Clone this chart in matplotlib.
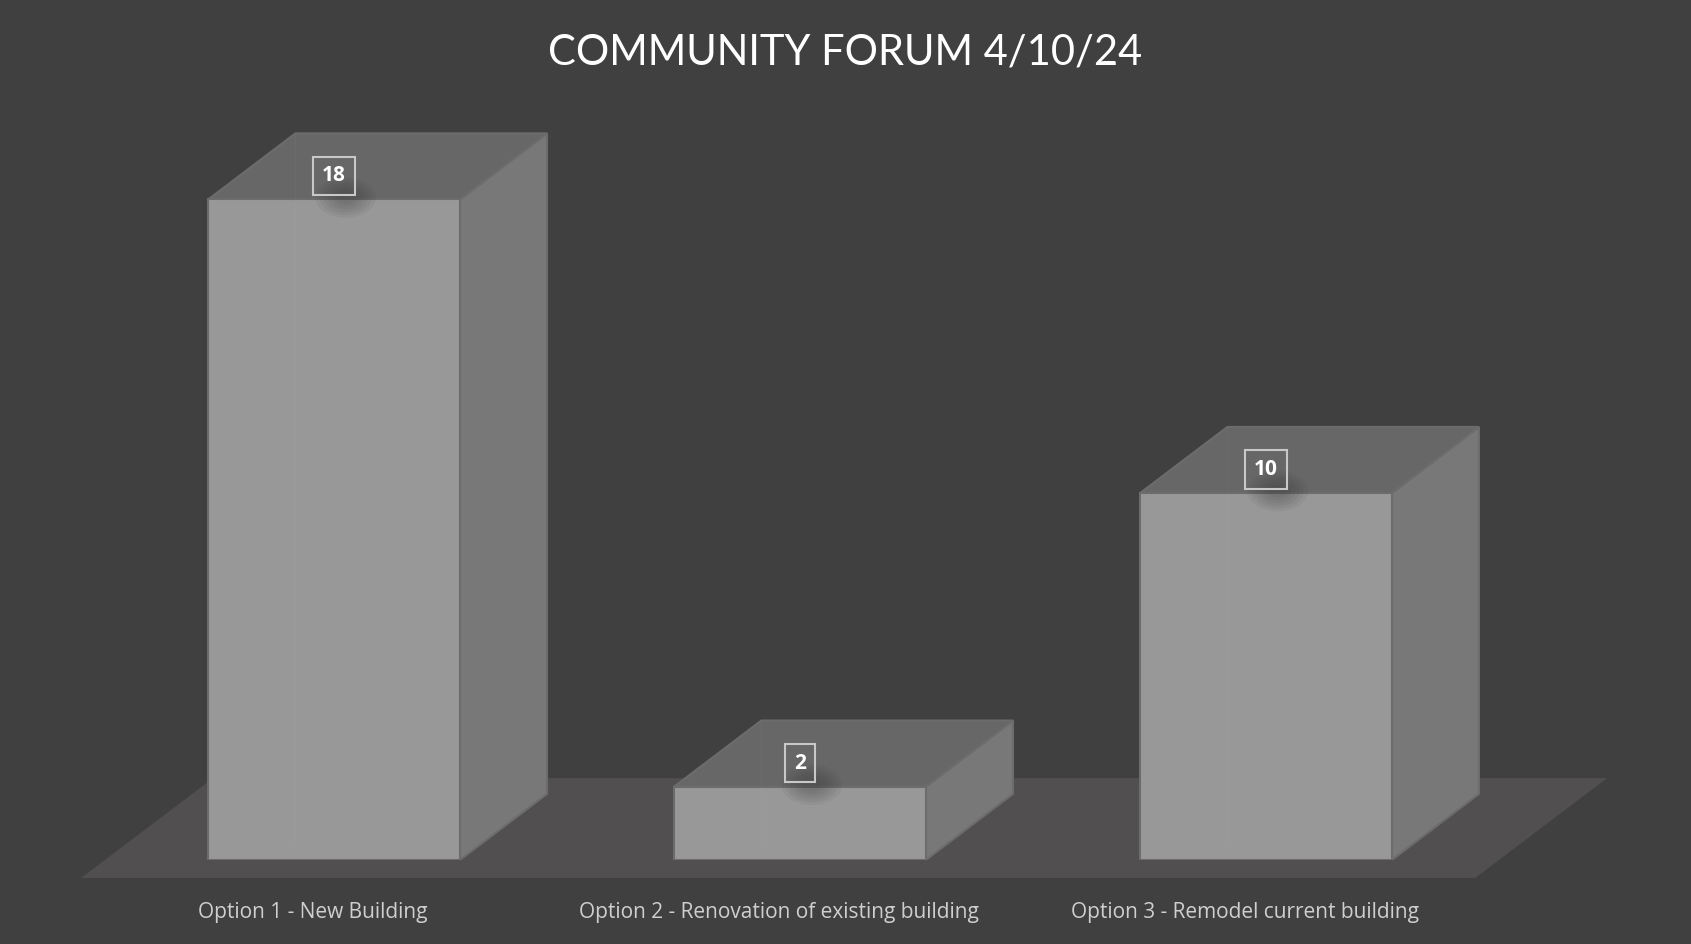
import matplotlib.pyplot as plt
from matplotlib.patches import Polygon, Ellipse

categories = ['Option 1 - New Building',
              'Option 2 - Renovation of existing building',
              'Option 3 - Remodel current building']
votes = [18, 2, 10]
title = 'COMMUNITY FORUM 4/10/24'

bg = '#404040'
front_c = '#989898'
top_c = '#676767'
side_c = '#787878'
floor_c = '#514f50'
edge_c = '#6c6c6c'

fig = plt.figure(figsize=(16.91, 9.44), dpi=100, facecolor=bg)
ax = fig.add_axes([0, 0.089, 1, 0.7775])
ax.set_facecolor(bg)
ax.set_xlim(-0.717, 2.912)
ax.set_ylim(0, 20)
ax.axis('off')

width = 0.54
ddx, ddy = 0.187, 1.8          # bar depth offset (data units)
fdx, fdy = 0.283, 2.72         # floor depth offset

# floor
fx0, fx1, fy = -0.543, 2.449, -0.49
floor = Polygon([(fx0, fy), (fx1, fy), (fx1 + fdx, fy + fdy), (fx0 + fdx, fy + fdy)],
                closed=True, facecolor=floor_c, edgecolor='none', clip_on=False, zorder=1)
ax.add_patch(floor)

xs = range(len(votes))
for x, v in zip(xs, votes):
    l, r = x - width / 2, x + width / 2
    side = Polygon([(r, 0), (r + ddx, ddy), (r + ddx, v + ddy), (r, v)],
                   closed=True, facecolor=side_c, edgecolor=edge_c, lw=1.5, zorder=2)
    top = Polygon([(l, v), (r, v), (r + ddx, v + ddy), (l + ddx, v + ddy)],
                  closed=True, facecolor=top_c, edgecolor=edge_c, lw=1.5, zorder=2)
    ax.add_patch(side)
    ax.add_patch(top)

ax.bar(list(xs), votes, width=width, color=front_c, edgecolor=edge_c, lw=1.5, zorder=3)

for x, v in zip(xs, votes):
    l = x - width / 2
    # faint back edge seen through the translucent bar
    ax.plot([l + ddx, l + ddx], [0.5, v], color='#a0a0a0', lw=0.8, alpha=0.3, zorder=4)
    ax.plot([l + ddx, l + ddx], [v, v + ddy], color='#707070', lw=0.8, alpha=0.5, zorder=4)
    # soft shadow under the label
    for k in range(6):
        ax.add_patch(Ellipse((x + 0.025, v + 0.05), 0.13 - 0.018 * k, 1.1 - 0.15 * k,
                             facecolor='#2a2a2a', edgecolor='none', alpha=0.06, zorder=4))
    ax.text(x, v + 0.64, str(v), ha='center', va='center', color='white',
            fontsize=15, fontweight='bold', family='Open Sans', zorder=6,
            bbox=dict(boxstyle='square,pad=0.42', facecolor='none',
                      edgecolor='#c8c8c8', lw=1.5))

for x, c in zip(xs, categories):
    ax.text(x - 0.045, -1.43, c, ha='center', va='center', color='#cfcfcf',
            fontsize=15, family='Open Sans', clip_on=False)

fig.text(0.5, 0.944, title, ha='center', va='center', color='white',
         fontsize=30, family='Lato')

fig.savefig('out.png', dpi=100, facecolor=bg)
